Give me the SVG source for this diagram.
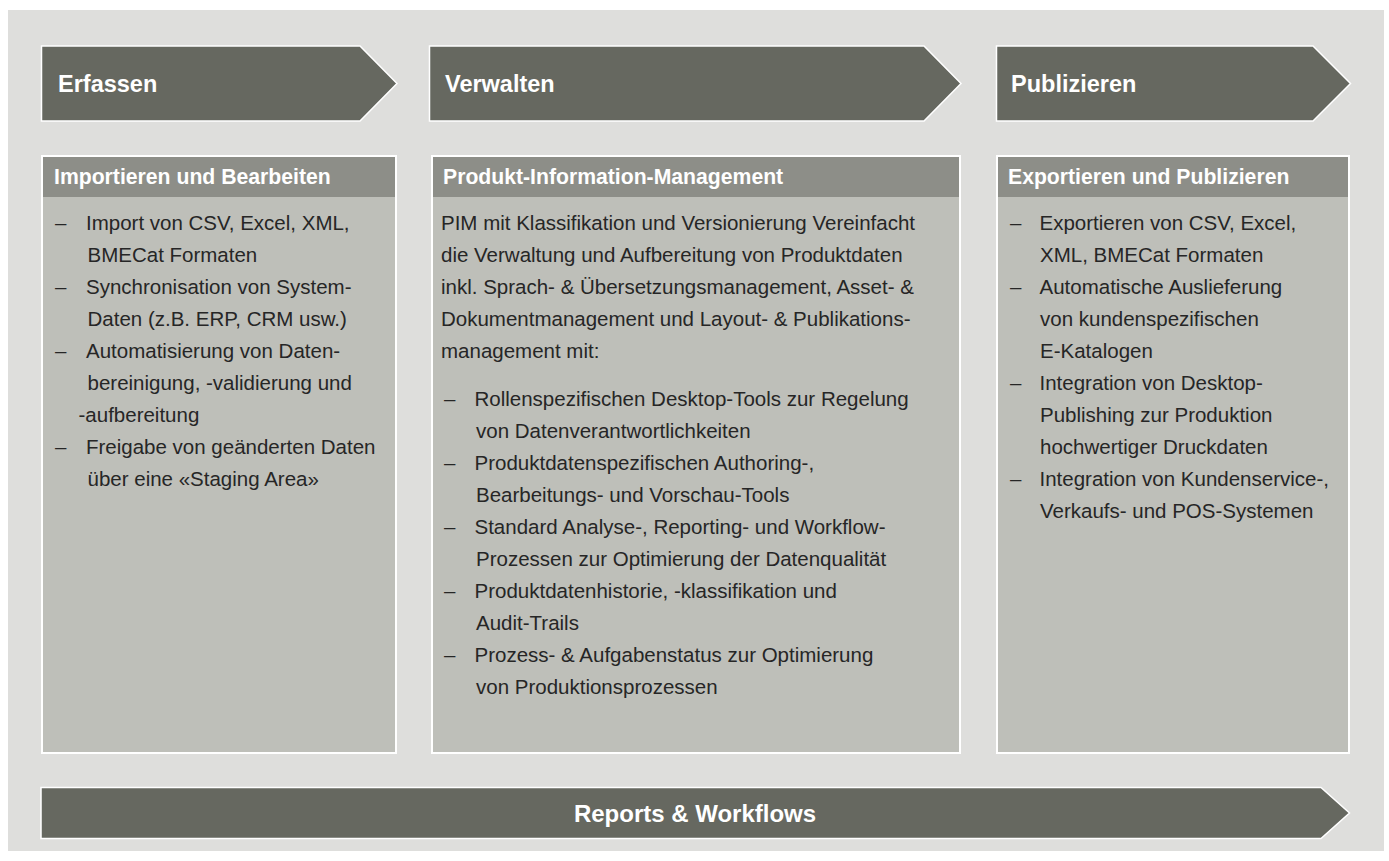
<svg xmlns="http://www.w3.org/2000/svg" width="1389" height="861" viewBox="0 0 1389 861">
<style>
.bg{fill:#dededc}
.arrow{fill:#666860;stroke:#ffffff;stroke-width:1.5}
.box{fill:#bebfb9;stroke:#ffffff;stroke-width:2}
.strip{fill:#8d8e88}
.h1{font-family:"Liberation Sans",Arial,sans-serif;font-weight:bold;font-size:23.5px;fill:#ffffff}
.h2{font-family:"Liberation Sans",Arial,sans-serif;font-weight:bold;font-size:21.2px;fill:#ffffff}
.t{font-family:"Liberation Sans",Arial,sans-serif;font-size:20.5px;fill:#262626}
</style>
<rect class="bg" x="8" y="10" width="1376" height="841"/>
<g id="erfassen">
<polygon class="arrow" points="41.5,46 360,46 397,83.5 360,121 41.5,121"/>
<text class="h1" x="58" y="92">Erfassen</text>
</g>
<g id="verwalten">
<polygon class="arrow" points="429.5,46 924,46 961,83.5 924,121 429.5,121"/>
<text class="h1" x="445" y="92">Verwalten</text>
</g>
<g id="publizieren">
<polygon class="arrow" points="996.5,46 1313,46 1350.5,83.5 1313,121 996.5,121"/>
<text class="h1" x="1011" y="92">Publizieren</text>
</g>
<g id="box-importieren">
<rect class="box" x="42" y="156" width="354" height="597"/>
<rect class="strip" x="43" y="157" width="352" height="40"/>
<text class="h2" x="54" y="184">Importieren und Bearbeiten</text>
<g class="t">
<text x="55" y="230">–</text><text x="86" y="230">Import von CSV, Excel, XML,</text>
<text x="87.5" y="262">BMECat Formaten</text>
<text x="55" y="294">–</text><text x="86" y="294">Synchronisation von System-</text>
<text x="87.5" y="326">Daten (z.B. ERP, CRM usw.)</text>
<text x="55" y="358">–</text><text x="86" y="358">Automatisierung von Daten-</text>
<text x="87.5" y="390">bereinigung, -validierung und</text>
<text x="78.5" y="422">-aufbereitung</text>
<text x="55" y="454">–</text><text x="86" y="454">Freigabe von geänderten Daten</text>
<text x="87.5" y="486">über eine «Staging Area»</text>
</g>
</g>
<g id="box-pim">
<rect class="box" x="432" y="156" width="528" height="597"/>
<rect class="strip" x="433" y="157" width="526" height="40"/>
<text class="h2" x="443" y="184">Produkt-Information-Management</text>
<g class="t">
<text x="441" y="230">PIM mit Klassifikation und Versionierung Vereinfacht</text>
<text x="441" y="262">die Verwaltung und Aufbereitung von Produktdaten</text>
<text x="441" y="294">inkl. Sprach- &amp; Übersetzungsmanagement, Asset- &amp;</text>
<text x="441" y="326">Dokumentmanagement und Layout- &amp; Publikations-</text>
<text x="441" y="358">management mit:</text>
<text x="444" y="405.5">–</text><text x="474.5" y="405.5">Rollenspezifischen Desktop-Tools zur Regelung</text>
<text x="476" y="437.5">von Datenverantwortlichkeiten</text>
<text x="444" y="469.5">–</text><text x="474.5" y="469.5">Produktdatenspezifischen Authoring-,</text>
<text x="476" y="501.5">Bearbeitungs- und Vorschau-Tools</text>
<text x="444" y="533.5">–</text><text x="474.5" y="533.5">Standard Analyse-, Reporting- und Workflow-</text>
<text x="476" y="565.5">Prozessen zur Optimierung der Datenqualität</text>
<text x="444" y="597.5">–</text><text x="474.5" y="597.5">Produktdatenhistorie, -klassifikation und</text>
<text x="476" y="629.5">Audit-Trails</text>
<text x="444" y="661.5">–</text><text x="474.5" y="661.5">Prozess- &amp; Aufgabenstatus zur Optimierung</text>
<text x="476" y="693.5">von Produktionsprozessen</text>
</g>
</g>
<g id="box-exportieren">
<rect class="box" x="997" y="156" width="352" height="597"/>
<rect class="strip" x="998" y="157" width="350" height="40"/>
<text class="h2" x="1008" y="184">Exportieren und Publizieren</text>
<g class="t">
<text x="1010" y="230">–</text><text x="1039.5" y="230">Exportieren von CSV, Excel,</text>
<text x="1040" y="262">XML, BMECat Formaten</text>
<text x="1010" y="294">–</text><text x="1039.5" y="294">Automatische Auslieferung</text>
<text x="1040" y="326">von kundenspezifischen</text>
<text x="1040" y="358">E-Katalogen</text>
<text x="1010" y="390">–</text><text x="1039.5" y="390">Integration von Desktop-</text>
<text x="1040" y="422">Publishing zur Produktion</text>
<text x="1040" y="454">hochwertiger Druckdaten</text>
<text x="1010" y="486">–</text><text x="1039.5" y="486">Integration von Kundenservice-,</text>
<text x="1040" y="518">Verkaufs- und POS-Systemen</text>
</g>
</g>
<g id="reports">
<polygon class="arrow" points="41,787.5 1321,787.5 1349.5,813 1321,838.5 41,838.5"/>
<text class="h1" x="695" y="822" text-anchor="middle" style="font-size:24px">Reports &amp; Workflows</text>
</g>
<g id="connectors"></g>
</svg>
